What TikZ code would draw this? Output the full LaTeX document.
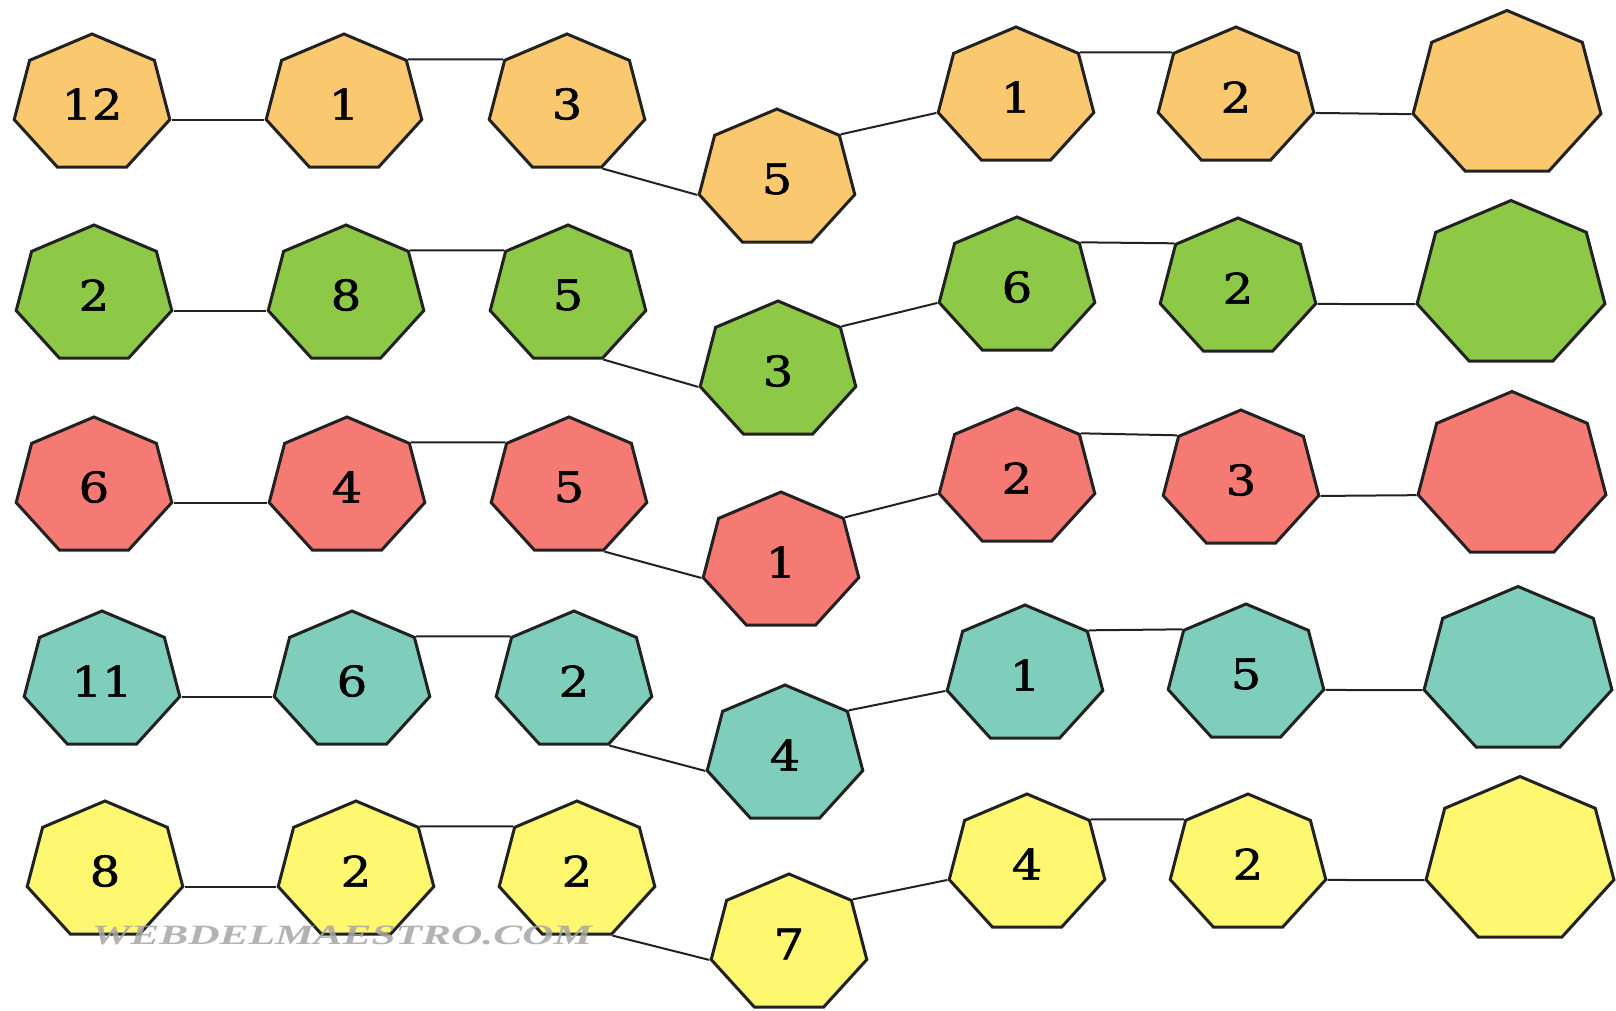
\documentclass[tikz,border=0pt]{standalone}
\usepackage{fontspec}
\newfontfamily\numfont[BoldFont=DejaVu Serif, BoldFeatures={FakeBold=1.3}]{DejaVu Serif}
\newfontfamily\markfont{Liberation Serif}
\usepackage{tikz}
\usetikzlibrary{shapes.geometric}
\usepackage{xcolor}
\definecolor{hexorange}{RGB}{250,200,110}
\definecolor{hexgreen}{RGB}{141,200,70}
\definecolor{hexred}{RGB}{245,122,115}
\definecolor{hexteal}{RGB}{127,206,187}
\definecolor{hexyellow}{RGB}{253,248,112}
\definecolor{edge}{RGB}{34,34,34}

\begin{document}
\begin{tikzpicture}[x=0.5pt, y=-0.5pt,
  hept/.style={regular polygon, regular polygon sides=7, draw=edge, line width=1.5pt,
    inner sep=0pt, minimum size=70pt, xscale=1.14,
    font=\numfont\bfseries\fontsize{21}{24}\selectfont},
  bighept/.style={hept, minimum size=84.5pt},
  link/.style={draw=edge, line width=1pt}]
  \fill[white] (0,0) rectangle (1616,1011);
  \useasboundingbox (0,0) rectangle (1616,1011);
  \clip (0,0) rectangle (1616,1011);

  % orange row
  \node[hept, fill=hexorange] (o1) at (92,104) {12};
  \node[hept, fill=hexorange] (o2) at (344,104) {1};
  \node[hept, fill=hexorange] (o3) at (567,104) {3};
  \node[hept, fill=hexorange] (o4) at (777,179) {5};
  \node[hept, fill=hexorange] (o5) at (1016,97) {1};
  \node[hept, fill=hexorange] (o6) at (1236,97) {2};
  \node[bighept, fill=hexorange] (o7) at (1507,95) {};
  \draw[link] (o1.corner 6) -- (o2.corner 3);
  \draw[link] (o2.corner 7) -- (o3.corner 2);
  \draw[link] (o3.corner 5) -- (o4.corner 3);
  \draw[link] (o4.corner 7) -- (o5.corner 3);
  \draw[link] (o5.corner 7) -- (o6.corner 2);
  \draw[link] (o6.corner 6) -- (o7.corner 3);

  % green row
  \node[hept, fill=hexgreen] (g1) at (94,295) {2};
  \node[hept, fill=hexgreen] (g2) at (346,295) {8};
  \node[hept, fill=hexgreen] (g3) at (568,295) {5};
  \node[hept, fill=hexgreen] (g4) at (778,371) {3};
  \node[hept, fill=hexgreen] (g5) at (1017,287) {6};
  \node[hept, fill=hexgreen] (g6) at (1238,288) {2};
  \node[bighept, fill=hexgreen] (g7) at (1511,285) {};
  \draw[link] (g1.corner 6) -- (g2.corner 3);
  \draw[link] (g2.corner 7) -- (g3.corner 2);
  \draw[link] (g3.corner 5) -- (g4.corner 3);
  \draw[link] (g4.corner 7) -- (g5.corner 3);
  \draw[link] (g5.corner 7) -- (g6.corner 2);
  \draw[link] (g6.corner 6) -- (g7.corner 3);

  % red row
  \node[hept, fill=hexred] (r1) at (94,487) {6};
  \node[hept, fill=hexred] (r2) at (347,487) {4};
  \node[hept, fill=hexred] (r3) at (569,487) {5};
  \node[hept, fill=hexred] (r4) at (781,562) {1};
  \node[hept, fill=hexred] (r5) at (1017,478) {2};
  \node[hept, fill=hexred] (r6) at (1241,480) {3};
  \node[bighept, fill=hexred] (r7) at (1512,476) {};
  \draw[link] (r1.corner 6) -- (r2.corner 3);
  \draw[link] (r2.corner 7) -- (r3.corner 2);
  \draw[link] (r3.corner 5) -- (r4.corner 3);
  \draw[link] (r4.corner 7) -- (r5.corner 3);
  \draw[link] (r5.corner 7) -- (r6.corner 2);
  \draw[link] (r6.corner 6) -- (r7.corner 3);

  % teal row
  \node[hept, fill=hexteal] (t1) at (102,681) {11};
  \node[hept, fill=hexteal] (t2) at (352,681) {6};
  \node[hept, fill=hexteal] (t3) at (574,681) {2};
  \node[hept, fill=hexteal] (t4) at (785,755) {4};
  \node[hept, fill=hexteal] (t5) at (1025,675) {1};
  \node[hept, fill=hexteal] (t6) at (1246,674) {5};
  \node[bighept, fill=hexteal] (t7) at (1518,671) {};
  \draw[link] (t1.corner 6) -- (t2.corner 3);
  \draw[link] (t2.corner 7) -- (t3.corner 2);
  \draw[link] (t3.corner 5) -- (t4.corner 3);
  \draw[link] (t4.corner 7) -- (t5.corner 3);
  \draw[link] (t5.corner 7) -- (t6.corner 2);
  \draw[link] (t6.corner 6) -- (t7.corner 3);

  % yellow row
  \node[hept, fill=hexyellow] (y1) at (105,871) {8};
  \node[hept, fill=hexyellow] (y2) at (356,871) {2};
  \node[hept, fill=hexyellow] (y3) at (577,871) {2};
  \node[hept, fill=hexyellow] (y4) at (789,944) {7};
  \node[hept, fill=hexyellow] (y5) at (1027,864) {4};
  \node[hept, fill=hexyellow] (y6) at (1248,864) {2};
  \node[bighept, fill=hexyellow] (y7) at (1520,861) {};
  \draw[link] (y1.corner 6) -- (y2.corner 3);
  \draw[link] (y2.corner 7) -- (y3.corner 2);
  \draw[link] (y3.corner 5) -- (y4.corner 3);
  \draw[link] (y4.corner 7) -- (y5.corner 3);
  \draw[link] (y5.corner 7) -- (y6.corner 2);
  \draw[link] (y6.corner 6) -- (y7.corner 3);

  % watermark
  \node[text=black!35, opacity=0.85, xscale=1.55, font=\markfont\bfseries\itshape\fontsize{14}{16}\selectfont]
    (mark) at (342,935) {WEBDELMAESTRO.COM};
\end{tikzpicture}
\end{document}
